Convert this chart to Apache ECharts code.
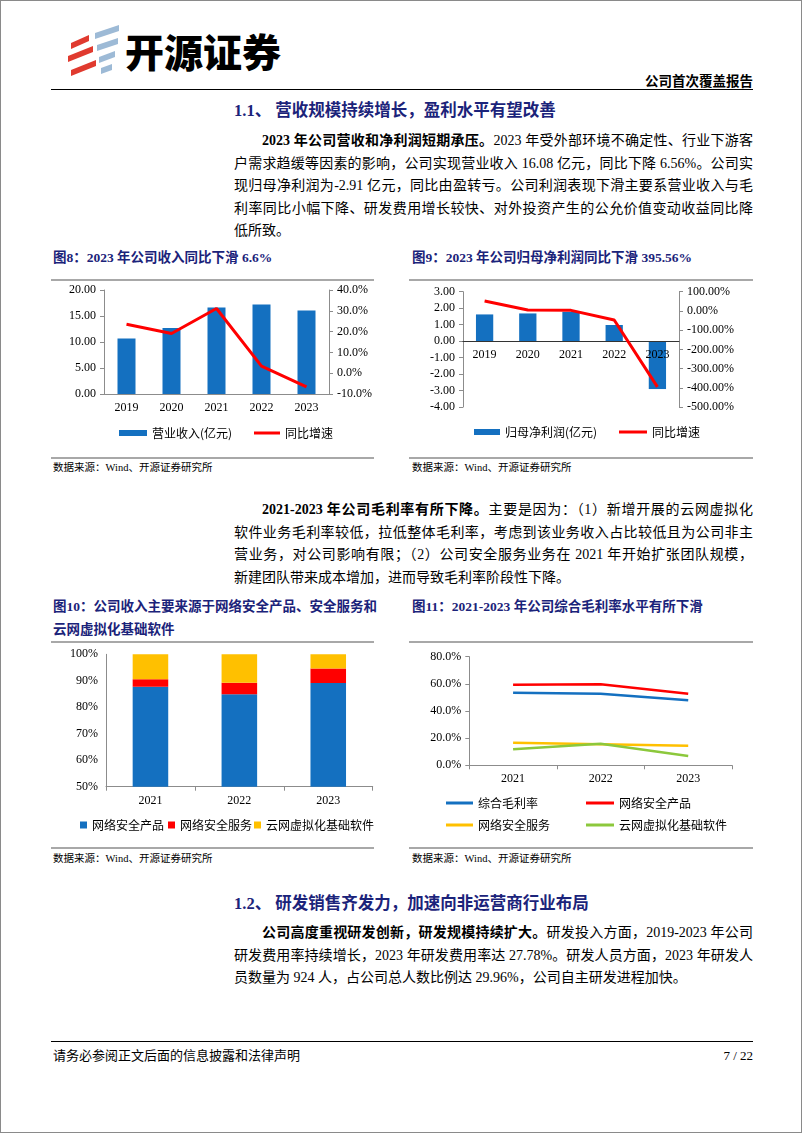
<!DOCTYPE html>
<html><head><meta charset="utf-8">
<script src="https://cdn.jsdelivr.net/npm/echarts@6/dist/echarts.min.js"></script>
<style>
html,body{margin:0;padding:0;background:#fff;}
#page{position:relative;width:800px;height:1131px;border:1px solid #8a8a8a;overflow:hidden;font-family:"Liberation Serif","Noto Sans CJK SC",serif;color:#000;}
.a{position:absolute;white-space:nowrap;}
.logo{left:124px;top:24px;font-family:"Noto Sans CJK SC",sans-serif;font-weight:900;font-size:39px;line-height:50px;letter-spacing:0px;}
.rtype{right:48px;top:72px;font-size:13.5px;font-weight:bold;line-height:18px;}
.hr{position:absolute;height:0;}
.h2{font-size:16.5px;font-weight:bold;color:#1b237a;line-height:22px;}
.p{position:absolute;left:233px;width:519px;font-size:14px;line-height:22.5px;}
.p div{white-space:nowrap;height:22.5px;}
.p div.j{white-space:normal;text-align:justify;text-align-last:justify;}
.p div.i{padding-left:28px;}
.ft{font-size:13.5px;font-weight:bold;color:#1b237a;line-height:20px;}
.src{font-size:10.5px;line-height:14px;}
.chart{position:absolute;}
</style></head>
<body><div id="page">
<svg class="a" style="left:64px;top:22px" width="60" height="56" viewBox="0 0 60 56">
  <polygon points="6,20 24,12 24,18 6,26" fill="#e03a2f"/>
  <polygon points="3,33 28,23 28,29 3,39" fill="#e03a2f"/>
  <polygon points="6,47 31,37 31,43 6,53" fill="#e03a2f"/>
  <polygon points="30,10 54,2 54,8 30,16" fill="#9dbad6"/>
  <polygon points="32,22 53,15 53,21 32,28" fill="#9dbad6"/>
  <polygon points="34,34 50,28 50,34 34,40" fill="#9dbad6"/>
  <polygon points="36,45 47,41 47,47 36,51" fill="#9dbad6"/>
</svg>
<div class="a logo">开源证券</div>
<div class="a rtype">公司首次覆盖报告</div>
<div class="hr" style="left:50px;top:88px;width:702px;border-top:1.5px solid #000;"></div>

<div class="a h2" style="left:233px;top:99px;">1.1、 营收规模持续增长，盈利水平有望改善</div>
<div class="p" style="top:129px;">
  <div class="j i"><b>2023 年公司营收和净利润短期承压。</b>2023 年受外部环境不确定性、行业下游客</div>
  <div class="j">户需求趋缓等因素的影响，公司实现营业收入 16.08 亿元，同比下降 6.56%。公司实</div>
  <div class="j">现归母净利润为-2.91 亿元，同比由盈转亏。公司利润表现下滑主要系营业收入与毛</div>
  <div class="j">利率同比小幅下降、研发费用增长较快、对外投资产生的公允价值变动收益同比降</div>
  <div>低所致。</div>
</div>

<div class="a ft" style="left:52px;top:247px;">图8：2023 年公司收入同比下滑 6.6%</div>
<div class="a ft" style="left:411px;top:247px;">图9：2023 年公司归母净利润同比下滑 395.56%</div>
<div class="hr" style="left:50px;top:278px;width:323px;border-top:2px solid #a8a8a8;"></div>
<div class="hr" style="left:408px;top:278px;width:344px;border-top:2px solid #a8a8a8;"></div>
<div id="c1" class="chart" style="left:50px;top:280px;width:325px;height:175px;"></div>
<div id="c2" class="chart" style="left:408px;top:280px;width:344px;height:175px;"></div>
<div class="hr" style="left:50px;top:456px;width:323px;border-top:2px solid #a8a8a8;"></div>
<div class="hr" style="left:408px;top:456px;width:344px;border-top:2px solid #a8a8a8;"></div>
<div class="a src" style="left:52px;top:460px;">数据来源：Wind、开源证券研究所</div>
<div class="a src" style="left:411px;top:460px;">数据来源：Wind、开源证券研究所</div>

<div class="p" style="top:498px;">
  <div class="j i"><b>2021-2023 年公司毛利率有所下降。</b>主要是因为：（1）新增开展的云网虚拟化</div>
  <div class="j">软件业务毛利率较低，拉低整体毛利率，考虑到该业务收入占比较低且为公司非主</div>
  <div class="j">营业务，对公司影响有限；（2）公司安全服务业务在 2021 年开始扩张团队规模，</div>
  <div>新建团队带来成本增加，进而导致毛利率阶段性下降。</div>
</div>

<div class="a ft" style="left:52px;top:596px;">图10：公司收入主要来源于网络安全产品、安全服务和</div>
<div class="a ft" style="left:52px;top:619px;">云网虚拟化基础软件</div>
<div class="a ft" style="left:411px;top:596px;">图11：2021-2023 年公司综合毛利率水平有所下滑</div>
<div class="hr" style="left:50px;top:640px;width:323px;border-top:2px solid #a8a8a8;"></div>
<div class="hr" style="left:408px;top:640px;width:344px;border-top:2px solid #a8a8a8;"></div>
<div id="c3" class="chart" style="left:50px;top:642px;width:325px;height:204px;"></div>
<div id="c4" class="chart" style="left:408px;top:642px;width:344px;height:204px;"></div>
<div class="hr" style="left:50px;top:846px;width:323px;border-top:2px solid #a8a8a8;"></div>
<div class="hr" style="left:408px;top:846px;width:344px;border-top:2px solid #a8a8a8;"></div>
<div class="a src" style="left:52px;top:851px;">数据来源：Wind、开源证券研究所</div>
<div class="a src" style="left:411px;top:851px;">数据来源：Wind、开源证券研究所</div>

<div class="a h2" style="left:233px;top:892px;">1.2、 研发销售齐发力，加速向非运营商行业布局</div>
<div class="p" style="top:921px;">
  <div class="j i"><b>公司高度重视研发创新，研发规模持续扩大。</b>研发投入方面，2019-2023 年公司</div>
  <div class="j">研发费用率持续增长，2023 年研发费用率达 27.78%。研发人员方面，2023 年研发人</div>
  <div>员数量为 924 人，占公司总人数比例达 29.96%，公司自主研发进程加快。</div>
</div>

<div class="hr" style="left:50px;top:1040px;width:702px;border-top:1.5px solid #000;"></div>
<div class="a" style="left:52px;top:1046px;font-size:13px;line-height:18px;">请务必参阅正文后面的信息披露和法律声明</div>
<div class="a" style="right:48px;top:1046px;font-size:13px;line-height:18px;">7 / 22</div>
</div>
<script>
// ---------- data ----------
const years5 = ['2019', '2020', '2021', '2022', '2023'];
const revenue = [10.66, 12.70, 16.65, 17.21, 16.08];
const revenueYoY = [23.5, 19.1, 31.1, 3.4, -6.56];
const netProfit = [1.62, 1.68, 1.78, 0.98, -2.91];
const netProfitYoY = [51.5, 4.7, 3.0, -47.0, -395.56];
const years3 = ['2021', '2022', '2023'];
const shareProducts = [87.7, 84.9, 89.2];
const shareServices = [2.9, 4.4, 5.4];
const shareCloud = [9.4, 10.7, 5.4];
const gmTotal = [53.5, 52.7, 47.9];
const gmProducts = [59.4, 59.7, 52.7];
const gmServices = [16.6, 15.5, 14.4];
const gmCloud = [11.8, 15.9, 6.9];

const FONT = '"Liberation Serif","Noto Sans CJK SC",serif';
const BLUE = '#1470c0', RED = '#ff0000', YEL = '#ffc000', GRN = '#8cc83c';
const axisGray = { lineStyle: { color: '#8c8c8c', width: 1 } };
const lab = (fmt) => ({ color: '#000', fontSize: 12, fontFamily: FONT, formatter: fmt });
const legTxt = { color: '#000', fontSize: 12, fontFamily: '"Noto Sans CJK SC",sans-serif' };
const leg = (name, left, top, w, h) => ({ data: [name], left, top, padding: 0, itemWidth: w, itemHeight: h, itemGap: 0, icon: 'rect', textStyle: legTxt });

// Chart 1
echarts.init(document.getElementById('c1')).setOption({
  animation: false,
  textStyle: { fontFamily: FONT },
  grid: { left: 53, top: 9, width: 225, height: 104 },
  legend: [leg('营业收入(亿元)', 68, 146, 28, 6), leg('同比增速', 203, 146, 26, 3)],
  xAxis: { type: 'category', data: years5, axisLine: axisGray, axisTick: { show: false }, axisLabel: lab() },
  yAxis: [
    { type: 'value', min: 0, max: 20, interval: 5, axisLine: { show: true, ...axisGray }, axisTick: { show: true, length: 4, ...axisGray }, splitLine: { show: false }, axisLabel: lab(v => v.toFixed(2)) },
    { type: 'value', min: -10, max: 40, interval: 10, axisLine: { show: true, ...axisGray }, axisTick: { show: true, length: 4, ...axisGray }, splitLine: { show: false }, axisLabel: lab(v => v.toFixed(1) + '%') }
  ],
  series: [
    { name: '营业收入(亿元)', type: 'bar', data: revenue, barWidth: '40%', itemStyle: { color: BLUE } },
    { name: '同比增速', type: 'line', yAxisIndex: 1, data: revenueYoY, symbol: 'none', lineStyle: { color: RED, width: 3 }, itemStyle: { color: RED } }
  ]
});

// Chart 2  (main grid + an upper grid whose bottom edge sits on the zero line, carrying the category axis)
const c2Left = 54, c2Top = 10.7, c2W = 216, c2H = 115.3;
const lMin = -4, lMax = 3;
echarts.init(document.getElementById('c2')).setOption({
  animation: false,
  textStyle: { fontFamily: FONT },
  grid: [
    { left: c2Left, top: c2Top, width: c2W, height: c2H },
    { left: c2Left, top: c2Top, width: c2W, height: c2H * lMax / (lMax - lMin) }
  ],
  legend: [leg('归母净利润(亿元)', 65, 145, 26, 6), leg('同比增速', 210, 145, 28, 3)],
  xAxis: [
    { type: 'category', data: years5, gridIndex: 0, show: false },
    { type: 'category', data: years5, gridIndex: 1, position: 'bottom', axisLine: { lineStyle: { color: '#333', width: 1 } }, axisTick: { show: false }, axisLabel: lab(), z: 3 }
  ],
  yAxis: [
    { type: 'value', gridIndex: 0, min: lMin, max: lMax, interval: 1, axisLine: { show: true, onZero: false, ...axisGray }, axisTick: { show: true, length: 4, ...axisGray }, splitLine: { show: false }, axisLabel: lab(v => v.toFixed(2)) },
    { type: 'value', gridIndex: 0, min: -500, max: 100, interval: 100, axisLine: { show: true, onZero: false, ...axisGray }, axisTick: { show: true, length: 4, ...axisGray }, splitLine: { show: false }, axisLabel: lab(v => v.toFixed(2) + '%') },
    { type: 'value', gridIndex: 1, min: 0, max: 1, show: false }
  ],
  series: [
    { name: '归母净利润(亿元)', type: 'bar', xAxisIndex: 0, yAxisIndex: 0, data: netProfit, barWidth: '40%', itemStyle: { color: BLUE }, z: 2 },
    { name: '同比增速', type: 'line', xAxisIndex: 0, yAxisIndex: 1, data: netProfitYoY, symbol: 'none', lineStyle: { color: RED, width: 3 }, itemStyle: { color: RED }, z: 5 }
  ]
});

// Chart 3
echarts.init(document.getElementById('c3')).setOption({
  animation: false,
  textStyle: { fontFamily: FONT },
  grid: { left: 55, top: 11.3, width: 266.7, height: 132.4 },
  legend: [leg('网络安全产品', 29, 176, 7, 7), leg('网络安全服务', 117, 176, 7, 7), leg('云网虚拟化基础软件', 203, 176, 7, 7)],
  xAxis: { type: 'category', data: years3, axisLine: axisGray, axisTick: { show: true, length: 4, ...axisGray }, axisLabel: lab() },
  yAxis: { type: 'value', min: 50, max: 100, interval: 10, axisLine: { show: true, ...axisGray }, axisTick: { show: false }, splitLine: { show: false }, axisLabel: lab(v => v + '%') },
  series: [
    { name: '网络安全产品', type: 'bar', stack: 's', data: shareProducts, barWidth: '40%', itemStyle: { color: BLUE } },
    { name: '网络安全服务', type: 'bar', stack: 's', data: shareServices, itemStyle: { color: RED } },
    { name: '云网虚拟化基础软件', type: 'bar', stack: 's', data: shareCloud, itemStyle: { color: YEL } }
  ]
});

// Chart 4
const ln = (name, data, color) => ({ name, type: 'line', data, symbol: 'none', lineStyle: { color, width: 2.5 }, itemStyle: { color } });
echarts.init(document.getElementById('c4')).setOption({
  animation: false,
  textStyle: { fontFamily: FONT },
  grid: { left: 60.3, top: 13.7, width: 262.7, height: 108.6 },
  legend: [
    leg('综合毛利率', 37, 154, 27, 3),
    leg('网络安全产品', 177, 154, 28, 3),
    leg('网络安全服务', 37, 176, 27, 3),
    leg('云网虚拟化基础软件', 177, 176, 28, 3)
  ],
  xAxis: { type: 'category', data: years3, axisLine: axisGray, axisTick: { show: true, length: 4, ...axisGray }, axisLabel: lab() },
  yAxis: { type: 'value', min: 0, max: 80, interval: 20, axisLine: { show: true, ...axisGray }, axisTick: { show: true, length: 4, ...axisGray }, splitLine: { show: false }, axisLabel: lab(v => v.toFixed(1) + '%') },
  series: [
    ln('综合毛利率', gmTotal, BLUE),
    ln('网络安全产品', gmProducts, RED),
    ln('网络安全服务', gmServices, YEL),
    ln('云网虚拟化基础软件', gmCloud, GRN)
  ]
});
</script>
</body></html>
